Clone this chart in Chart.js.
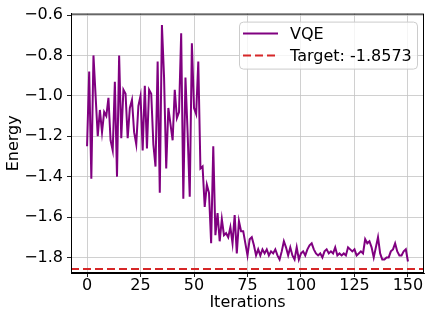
<!DOCTYPE html>
<html><head><meta charset="utf-8">
<script src="https://cdn.jsdelivr.net/npm/chart.js@4/dist/chart.umd.min.js"></script>
<style>html,body{margin:0;padding:0;background:#fff;}canvas{display:block;}</style>
</head><body>
<canvas id="c" width="432" height="320"></canvas>
<script>
// ---- data ----
const seriesLabels = ['VQE', 'Target: -1.8573'];
const targetEnergy = [-1.8573];
const energy = [
 -1.25,-0.88,-1.41,-0.80,-1.00,-1.20,-1.07,-1.18,-1.08,-1.10,
 -1.01,-1.22,-1.27,-0.93,-1.40,-0.80,-1.21,-0.97,-0.99,-1.21,
 -1.06,-1.02,-1.18,-1.24,-1.05,-1.00,-1.27,-0.95,-1.26,-0.97,
 -0.99,-1.24,-1.35,-0.83,-1.48,-0.65,-0.91,-1.36,-1.06,-1.14,
 -1.22,-0.97,-1.11,-1.08,-0.69,-1.51,-0.91,-1.18,-1.50,-0.74,
 -1.06,-1.09,-0.83,-1.36,-1.35,-1.55,-1.44,-1.48,-1.73,-1.25,
 -1.69,-1.58,-1.72,-1.61,-1.69,-1.68,-1.70,-1.65,-1.73,-1.59,
 -1.78,-1.62,-1.67,-1.67,-1.73,-1.79,-1.71,-1.70,-1.74,-1.79,
 -1.76,-1.79,-1.76,-1.78,-1.76,-1.79,-1.77,-1.78,-1.76,-1.79,
 -1.81,-1.77,-1.72,-1.75,-1.79,-1.75,-1.79,-1.81,-1.75,-1.81,
 -1.78,-1.77,-1.79,-1.76,-1.74,-1.73,-1.76,-1.78,-1.79,-1.78,
 -1.80,-1.77,-1.76,-1.78,-1.77,-1.78,-1.75,-1.79,-1.78,-1.79,
 -1.78,-1.79,-1.75,-1.76,-1.77,-1.76,-1.79,-1.78,-1.77,-1.78,
 -1.71,-1.73,-1.72,-1.75,-1.80,-1.75,-1.70,-1.78,-1.81,-1.81,
 -1.80,-1.80,-1.77,-1.76,-1.73,-1.77,-1.79,-1.79,-1.77,-1.76,
 -1.82
];
const xTicks = [0, 25, 50, 75, 100, 125, 150];
const yTicks = [-1.8, -1.6, -1.4, -1.2, -1.0, -0.8, -0.6];
const xRange = [-7.5, 157.5];
const yRange = [-1.877, -0.593];

const FONT = 'DejaVu Sans';
const vqePoints = energy.map((v, i) => ({x: i, y: v}));
const targetPoints = xRange.map(x => ({x: x, y: targetEnergy[0]}));

const frameAndLegend = {
  id: 'frameAndLegend',
  afterDraw(chart) {
    const ctx = chart.ctx, ca = chart.chartArea;
    ctx.save();
    ctx.strokeStyle = '#000'; ctx.lineWidth = 1;
    ctx.strokeRect(ca.left + 0.5, ca.top + 0.5, ca.right - ca.left - 1, ca.bottom - ca.top - 1);
    const w = 178, h = 47;
    const x0 = ca.right - 185, y0 = ca.top + 8;
    ctx.beginPath();
    ctx.roundRect(x0 + 0.5, y0 + 0.5, w, h, 4);
    ctx.fillStyle = 'rgba(255,255,255,0.8)';
    ctx.fill();
    ctx.strokeStyle = '#cccccc'; ctx.lineWidth = 1;
    ctx.stroke();
    const ds = chart.data.datasets;
    const rows = [y0 + 12, y0 + 34];
    ctx.font = '16px "' + FONT + '"';
    ctx.textBaseline = 'middle';
    ctx.textAlign = 'left';
    ds.forEach((d, k) => {
      ctx.beginPath();
      ctx.setLineDash(d.borderDash || []);
      ctx.strokeStyle = d.borderColor; ctx.lineWidth = d.borderWidth;
      ctx.moveTo(x0 + 4, rows[k]); ctx.lineTo(x0 + 39, rows[k]);
      ctx.stroke();
      ctx.setLineDash([]);
      ctx.fillStyle = '#000';
      ctx.fillText(d.label, x0 + 51, rows[k] + 1);
    });
    ctx.restore();
  }
};

const gridCommon = {color: '#c4c4c4', lineWidth: 0.8, tickLength: 4, tickColor: '#222', tickWidth: 1};

new Chart(document.getElementById('c'), {
  type: 'line',
  data: {
    datasets: [
      {label: seriesLabels[0], data: vqePoints, borderColor: '#800080', borderWidth: 2,
       pointRadius: 0, tension: 0, fill: false},
      {label: seriesLabels[1], data: targetPoints, borderColor: '#d62728', borderWidth: 2,
       borderDash: [8, 4], pointRadius: 0, fill: false}
    ]
  },
  options: {
    responsive: false, animation: false, devicePixelRatio: 1,
    layout: {padding: {left: 0, right: 8, top: 11, bottom: 0}},
    plugins: {legend: {display: false}, tooltip: {enabled: false}},
    scales: {
      x: {
        type: 'linear', min: xRange[0], max: xRange[1],
        afterBuildTicks: s => { s.ticks = xTicks.map(v => ({value: v})); },
        afterFit: s => { s.height = 47; },
        grid: gridCommon,
        border: {display: true, color: '#000', width: 1},
        ticks: {color: '#000', font: {family: FONT, size: 16}, padding: -1, maxRotation: 0, autoSkip: false},
        title: {display: true, text: 'Iterations', color: '#000', font: {family: FONT, size: 16}, padding: {top: 0, bottom: 8}}
      },
      y: {
        type: 'linear', min: yRange[0], max: yRange[1],
        afterBuildTicks: s => { s.ticks = yTicks.map(v => ({value: v})); },
        afterFit: s => { s.width = 71; },
        grid: gridCommon,
        border: {display: true, color: '#000', width: 1},
        ticks: {color: '#000', font: {family: FONT, size: 16}, padding: 4, autoSkip: false,
                callback: v => v.toFixed(1).replace('-', '\u2212')},
        title: {display: true, text: 'Energy', color: '#000', font: {family: FONT, size: 16}, padding: {top: 4, bottom: 0}}
      }
    }
  },
  plugins: [frameAndLegend]
});
</script>
</body></html>
